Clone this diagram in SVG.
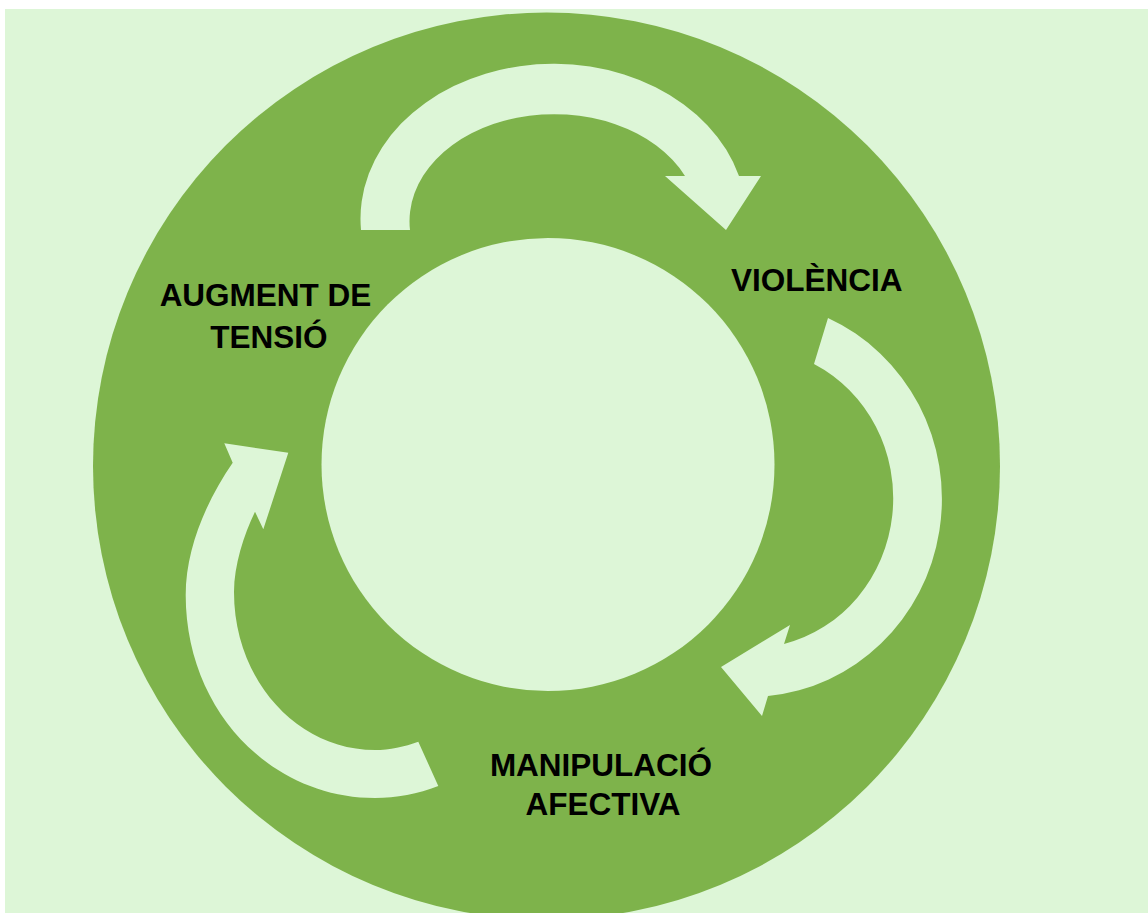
<svg xmlns="http://www.w3.org/2000/svg" width="1148" height="913" viewBox="0 0 1148 913">
<style>
.bg{fill:#DDF6D7}
.ring{fill:#7EB34B}
.arrow{fill:#DDF6D7;stroke:none}
.lbl{font-family:"Liberation Sans",Arial,sans-serif;font-weight:bold;font-size:31.5px;fill:#000;text-anchor:middle}
</style>
<rect width="1148" height="913" fill="#FFFFFF"/>
<rect class="bg" x="5" y="9" width="1143" height="904"/>
<g id="ring">
<circle class="ring" cx="546.5" cy="466" r="453.5"/>
<circle class="bg" cx="548" cy="464.5" r="226.5"/>
</g>
<g id="connectors">
<path id="arrow-top" class="arrow" d="M 361 230 A 193 155 0 0 1 739 176 L 761 176 L 726 230 L 665 176 L 685 176 A 144.5 107 0 0 0 410 230 Z"/>
<path id="arrow-right" class="arrow" d="M 828 318 A 192 198 0 0 1 768 696 L 762 716 L 721 667 L 790 625 L 784 644 A 143 150 0 0 0 814 364 Z"/>
<path id="arrow-left" class="arrow" d="M 438.3 786 C 418.3 793.9 396 798 375 798 C 270.4 798 185.7 710 185.7 595 C 185.7 548 207 500 232.7 462.7 L 224.3 443.3 L 288.3 452.7 L 263.3 529.3 L 255 511.7 C 243.8 535.1 234 565 234 592 C 234 680 297.1 750 375 750 C 389.7 750 404.5 746.8 418.3 741.7 Z"/>
</g>
<g id="node-augment">
<text class="lbl" x="265.5" y="306">AUGMENT DE</text>
<text class="lbl" x="269" y="348">TENSIÓ</text>
</g>
<g id="node-violencia">
<text class="lbl" x="816.7" y="291">VIOLÈNCIA</text>
</g>
<g id="node-manipulacio">
<text class="lbl" x="601" y="776">MANIPULACIÓ</text>
<text class="lbl" x="603" y="815">AFECTIVA</text>
</g>
</svg>
